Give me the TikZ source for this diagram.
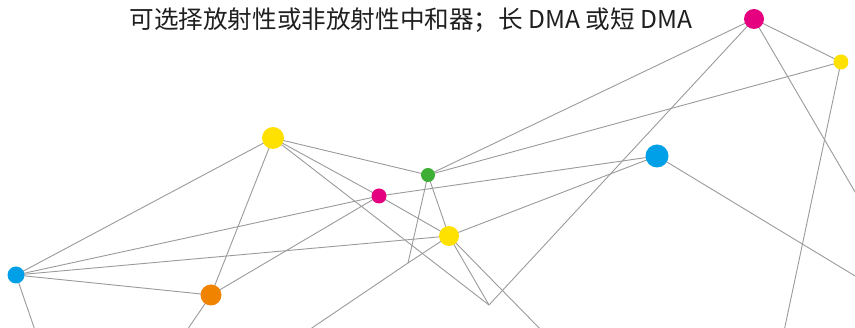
\documentclass[tikz,border=0pt]{standalone}
\usepackage{fontspec}
\newfontfamily\cjk{Noto Sans CJK SC}
\definecolor{cmag}{HTML}{E4007F}
\definecolor{cyel}{HTML}{FFE100}
\definecolor{cblu}{HTML}{00A0E9}
\definecolor{cgrn}{HTML}{3FAE35}
\definecolor{corg}{HTML}{F08300}
\definecolor{lgray}{HTML}{9A9A9A}
\begin{document}
\begin{tikzpicture}[x=1pt,y=-1pt,
  link/.style={draw=lgray,line width=0.9pt},
  dot/.style={circle,inner sep=0pt,minimum size=#1}]
\useasboundingbox (0,0) rectangle (855,328);
\clip (0,0) rectangle (855,328);
% nodes (positions)
\coordinate (Y1) at (273,138);
\coordinate (G)  at (428,175);
\coordinate (M1) at (379,196);
\coordinate (Y2) at (449,236);
\coordinate (B1) at (657,156);
\coordinate (B2) at (16,275);
\coordinate (O)  at (211,295);
\coordinate (M2) at (754,19);
\coordinate (Y3) at (841,62);
\coordinate (J1) at (408,263);
\coordinate (J2) at (489,305);
% free ends
\coordinate (e1) at (37,336);
\coordinate (e2) at (183,336);
\coordinate (e3) at (300,336);
\coordinate (e4) at (547,336);
\coordinate (e5) at (783,336);
\coordinate (e6) at (870,285);
\coordinate (e7) at (865,209);
% connectors
\draw[link] (Y1) -- (B2);
\draw[link] (Y1) -- (O);
\draw[link] (Y1) -- (G);
\draw[link] (Y1) -- (M1);
\draw[link] (Y1) -- (J2);
\draw[link] (B2) -- (M1);
\draw[link] (B2) -- (Y2);
\draw[link] (B2) -- (O);
\draw[link] (B2) -- (e1);
\draw[link] (O) -- (M1);
\draw[link] (O) -- (e2);
\draw[link] (M1) -- (B1);
\draw[link] (M1) -- (Y2);
\draw[link] (G) -- (J1);
\draw[link] (G) -- (Y2);
\draw[link] (G) -- (M2);
\draw[link] (G) -- (Y3);
\draw[link] (J1) -- (Y2);
\draw[link] (J1) -- (e3);
\draw[link] (Y2) -- (J2);
\draw[link] (Y2) -- (B1);
\draw[link] (Y2) -- (e4);
\draw[link] (J2) -- (M2);
\draw[link] (B1) -- (e6);
\draw[link] (M2) -- (Y3);
\draw[link] (M2) -- (e7);
\draw[link] (Y3) -- (e5);
% dots
\node[dot=22pt,fill=cyel] (nY1) at (Y1) {};
\node[dot=14pt,fill=cgrn] (nG) at (G) {};
\node[dot=15pt,fill=cmag] (nM1) at (M1) {};
\node[dot=20pt,fill=cyel] (nY2) at (Y2) {};
\node[dot=23pt,fill=cblu] (nB1) at (B1) {};
\node[dot=17pt,fill=cblu] (nB2) at (B2) {};
\node[dot=21pt,fill=corg] (nO) at (O) {};
\node[dot=20pt,fill=cmag] (nM2) at (M2) {};
\begin{scope}
\clip (0,0) rectangle (848,328);
\node[dot=15pt,fill=cyel] (nY3) at (Y3) {};
\end{scope}
% title
\node[font=\cjk\fontsize{24.6}{28}\selectfont,text=black!88,inner sep=0pt] (title) at (411,20) {可选择放射性或非放射性中和器；长 DMA 或短 DMA};
\end{tikzpicture}
\end{document}
